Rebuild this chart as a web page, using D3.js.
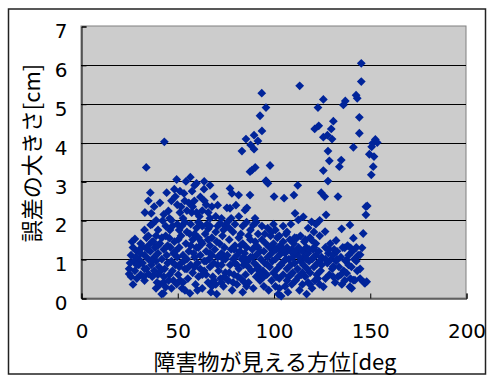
<!DOCTYPE html>
<html>
<head>
<meta charset="utf-8">
<script src="https://cdn.jsdelivr.net/npm/d3@7"></script>
<style>
  html, body { margin: 0; padding: 0; background: #fff; }
  svg { display: block; }
</style>
</head>
<body>
<svg id="chart" width="489" height="377"></svg>
<script>
// ---- Data (angle in deg, error in cm) ----
const xTicks = [0, 50, 100, 150, 200];
const yTicks = [0, 1, 2, 3, 4, 5, 6, 7];
const xTitle = "障害物が見える方位[deg";
const yTitle = "誤差の大きさ[cm]";

const pointsA = [ // 24-48 deg
  [25,0.62],[25.5,0.9],[26,1.1],[25,0.75],[26,0.55],[27,1.3],[27.5,0.95],[28,1.52],[28,0.7],[29,1.2],
  [29,0.5],[30,1.0],[30,0.85],[31,1.4],[31,0.6],[32,1.32],[32,0.9],[33,1.1],[33,0.45],[33.2,2.2],
  [33.9,3.36],[34,0.75],[34,1.55],[35,2.5],[35,1.0],[35,0.62],[36,2.71],[36.2,1.88],[36,1.2],[36.5,0.85],
  [37,1.45],[37.6,1.45],[37,0.55],[38,1.05],[38,0.7],[38.5,1.3],[39,0.95],[39,1.6],[40,0.6],[40,1.15],
  [40.5,0.8],[41,1.4],[41,0.35],[41.9,0.1],[42,1.0],[42.4,1.99],[42.8,0.4],[42.8,0.12],[43,1.25],[43.3,4.02],
  [43.5,0.75],[44,0.28],[44,1.6],[44.5,2.71],[44.5,1.1],[45,0.9],[45.4,2.24],[45.9,1.54],[46,0.6],[46.2,1.75],
  [46.5,1.3],[47,0.95],[47,2.0],[47.5,0.7],[48,1.15],[48,0.45],[48.5,2.8],[48.5,1.45],
  [26.5,1.45],[28.5,1.05],[30.5,1.25],[32.5,0.55],[34.5,1.25],[36.5,2.18],[39.5,0.4],[41.5,0.7],[45.5,0.45],[47.5,1.85],
  [33,1.75],[35,1.6],[37,1.9],[39,2.0],[40,1.75],[42,1.55],[43,2.15],[44,1.85],[46,2.05],[38,2.35],[41,2.45],[47,2.5],
  [27,0.35],[29,0.85],[31,1.15],[33,0.75],[35,1.35],[37,0.95],[39,0.25],[40,1.35],[43,0.55],[45,1.35],[47,0.25]
];
const pointsB = [ // 48-76 deg
  [49,2.61],[49,0.85],[49.7,3.05],[49.7,0.36],[50,1.05],[50,2.4],[50.5,0.6],[51,1.3],[51.4,2.75],[51.4,2.2],
  [52,0.9],[52,1.6],[52.5,1.86],[52.5,0.25],[53,1.1],[53,2.05],[53.5,2.69],[53.9,2.5],[54,0.2],[54,0.75],
  [54.5,1.4],[55,1.0],[55,1.7],[55.5,0.5],[56,1.2],[56.6,0.12],[56.8,3.11],[57,0.85],[57.5,2.2],[57.7,2.75],
  [58,1.5],[58,0.65],[58.9,2.5],[59,1.05],[59.5,0.35],[60,1.3],[60,1.8],[60.5,0.9],[61,0.55],[61,1.55],
  [61.5,2.1],[62,1.1],[62,0.75],[63,1.4],[63,0.25],[63.9,2.8],[64.1,2.5],[64,0.95],[64.5,1.65],[65,0.6],
  [65,1.2],[65.5,1.9],[66.1,2.2],[66.1,1.78],[66,0.4],[66.5,1.0],[67,1.35],[67,0.8],[67.5,0.15],[68,1.1],
  [68,1.55],[68.5,0.55],[69.1,2.61],[69,0.9],[69.5,1.25],[70,1.7],[70,0.35],[70.5,0.1],[71,2.39],[71,1.05],
  [71.5,0.7],[72.2,1.92],[72,1.4],[72.5,0.5],[73,1.15],[73,0.85],[73.5,1.6],[74,0.3],[74,1.0],[74.5,1.3],
  [75,0.65],[75,1.85],[75.8,2.32],
  [50.5,1.5],[51.5,0.45],[53.5,0.95],[56.5,1.65],[58.5,1.15],[60.5,0.2],[62.5,1.45],[64,0.7],[66,1.5],[68,0.3],
  [70.5,1.45],[72.5,1.1],[74.5,0.55],[56,2.45],[62,2.6],[59,2.9],[54.5,3.0],
  [50,1.9],[51,1.75],[52,2.35],[54,1.95],[55,2.25],[57,1.9],[58,2.35],[59,1.65],[60,2.2],[61,1.95],
  [63,1.85],[63,2.25],[65,2.4],[67,1.85],[67,2.05],[68,2.35],[70,2.1],[71,1.85],[73,2.05],[74,1.75],
  [64,3.0],[67,2.9],[60,2.95],
  [49,1.2],[51,0.8],[53,0.4],[55,0.75],[57,1.35],[59,0.8],[61,1.3],[63,0.6],[65,0.95],[67,1.15],
  [69,0.45],[71,0.85],[73,0.4],[75,1.0]
];
const pointsC = [ // 76-100 deg
  [76,1.1],[76.5,0.45],[77.4,2.82],[77.4,2.31],[77,1.5],[77.5,0.85],[78.4,2.69],[78,1.25],[78.5,0.2],[79,1.0],
  [79,1.7],[79.5,0.6],[80,1.35],[80.5,2.39],[80,0.9],[81,1.1],[81,0.35],[81.9,2.65],[82,1.55],[82,0.75],
  [82.5,1.2],[83,0.5],[83.6,3.78],[83.5,1.0],[84,1.4],[84,0.15],[84.5,0.85],[85,1.15],[85.2,2.26],[85.7,4.09],
  [85.5,0.6],[86,1.3],[86.2,2.32],[86.5,0.95],[87,1.6],[87,0.4],[87.8,3.25],[87.8,2.65],[88.1,3.94],[88,1.05],
  [88.5,0.7],[88.8,3.29],[89,1.25],[89.5,1.88],[89.9,4.19],[89.9,3.83],[89.5,0.25],[90,0.9],[90.4,2.05],[90.5,3.36],
  [90.5,1.45],[91,0.55],[91,1.1],[91.9,4.04],[92,0.8],[92,1.3],[93.0,4.69],[93,0.45],[93.5,1.0],[93.9,5.27],
  [94.0,4.30],[94,1.5],[94.5,0.7],[95,1.2],[95,0.3],[95.5,0.9],[96.1,4.90],[96.1,3.02],[96.4,2.99],[96,1.4],
  [96.5,0.6],[97.1,2.95],[97,1.05],[97.5,0.2],[98,1.3],[98.2,3.41],[98,0.8],[98.5,1.6],[99,0.45],[99,1.15],
  [99.5,0.95],[100,1.4],[100.3,2.61],[100,0.65],
  [77,1.8],[79.5,1.25],[81.5,0.55],[83,1.65],[84.5,1.05],[86,0.3],[88,1.5],[91.5,0.75],[93,1.2],[95.5,1.65],
  [76,1.95],[78,2.05],[80,1.9],[82,2.1],[84,1.85],[86,1.95],[88,1.75],[91,1.95],[92,1.65],[94,1.85],
  [97,1.8],[99,1.7],[100,1.9],
  [77,0.65],[79,0.4],[81,0.85],[83,1.35],[85,0.4],[87,0.8],[89,1.05],[91,1.35],[93,0.65],[95,0.55],
  [97,0.85],[99,1.3]
];
const pointsD = [ // 100-127 deg
  [101,1.0],[101,0.3],[101.5,1.25],[102,0.75],[102,1.55],[102.5,0.1],[103,1.1],[103,0.5],[103.5,1.35],[104,0.85],
  [104,0.05],[104.5,1.2],[105,0.6],[105.5,2.57],[105,1.45],[105.5,0.95],[106,0.3],[106,1.15],[106.5,1.65],[107,0.75],
  [107,1.3],[107.5,0.15],[108,1.0],[108,0.55],[108.5,1.5],[109,0.85],[109,1.2],[109.5,0.35],[110,1.05],[110,0.65],
  [110.6,2.65],[110.5,1.4],[111,0.9],[111.2,2.18],[111.5,0.45],[112,1.54],[112,1.15],[112.6,2.90],[112.9,2.01],[112.5,0.75],
  [113,1.3],[113.6,5.46],[113.5,0.2],[114,0.95],[114,1.6],[114.5,0.6],[115,1.2],[115.5,2.09],[115,0.35],[115.5,0.85],
  [116,1.45],[116,1.05],[116.5,0.55],[117,1.3],[117.2,0.1],[117.5,0.75],[118,1.15],[118,0.4],[118.5,0.95],[119,1.55],
  [119,0.65],[119.8,1.96],[119.8,1.49],[120,1.0],[120,0.25],[120.5,1.25],[121,0.8],[121.4,4.35],[121.5,0.45],[122,1.4],
  [122,1.1],[122.5,0.6],[123.1,4.90],[123.5,4.43],[123,0.9],[123.5,1.2],[124,0.35],[124,1.6],[124.8,2.71],[124.5,0.7],
  [125,1.05],[125.9,5.11],[125.9,4.14],[125.9,3.28],[125.9,0.29],[126.6,2.61],[126.8,1.71],
  [101.5,0.55],[103.5,0.85],[106.5,1.0],[109.5,1.25],[111,1.55],[113.5,1.05],[116.5,1.5],[118.5,1.25],[121,1.05],[124,0.95],
  [101,1.75],[103,1.6],[105,1.85],[107,1.7],[109,1.9],[118,1.8],[121,1.7],[122,1.9],[124,2.0],
  [101,1.25],[103,0.25],[105,1.25],[107,0.45],[109,0.6],[111,1.2],[113,0.55],[115,0.65],[117,1.0],[119,0.35],
  [121,1.3],[123,0.5],[125,0.85]
];
const pointsE = [ // 127-155 deg
  [127.3,2.14],[127,1.3],[127,0.5],[128,4.19],[128.3,3.78],[128.3,3.01],[128,0.9],[128.5,1.15],[129,3.53],[129,0.6],
  [129.5,1.4],[130,4.35],[130,1.0],[130.4,4.09],[130.5,0.75],[131.1,4.55],[131,1.11],[131,0.81],[131.5,1.25],[132,0.4],
  [132.5,1.48],[132.5,0.95],[133,1.2],[133.5,2.61],[133.5,0.55],[134,0.8],[134.2,3.38],[135,1.05],[135.2,3.55],[135.4,1.78],
  [135.5,0.35],[136,1.3],[136.3,4.97],[136.5,0.7],[137,1.29],[137.3,5.07],[137.5,0.95],[138,0.98],[138,0.64],[138.5,1.35],
  [139,1.1],[139.7,1.88],[139.7,0.29],[140,1.29],[140,0.5],[140.5,0.8],[141.5,3.88],[141.5,1.54],[141.5,0.46],[142,1.0],
  [142.9,5.22],[143,1.3],[143.5,5.14],[143.5,0.7],[144.6,4.65],[144.6,4.24],[144,1.1],[145,1.11],[145,0.5],[145.6,6.04],
  [145.6,5.57],[146,1.29],[146.6,1.66],[147,0.4],[147.5,0.38],[148,2.14],[148,2.35],[148.7,2.37],[148.4,0.42],[149.8,3.70],
  [150.8,3.17],[151,3.89],[151.5,3.98],[151.8,3.38],[152.2,3.64],[152.9,4.08],[153.9,4.00],[140.6,0.25],[142.3,0.46],
  [127,1.0],[129,1.25],[131,0.55],[133,1.0],[135,0.6],[137,0.45],[139,0.85],[141,1.2],[143,0.95],[145,0.75]
];
const points = [...pointsA, ...pointsB, ...pointsC, ...pointsD, ...pointsE];

// ---- Layout ----
const svg = d3.select("#chart");
const plot = { left: 81, top: 26, right: 466, bottom: 298 };

const x = d3.scaleLinear().domain([0, 200]).range([plot.left, plot.right]);
const y = d3.scaleLinear().domain([0, 7]).range([plot.bottom, plot.top]);

// outer frame
svg.append("rect")
  .attr("x", 8.5).attr("y", 9).attr("width", 477).attr("height", 365)
  .attr("fill", "#fff").attr("stroke", "#222").attr("stroke-width", 1.5);

// plot background
svg.append("rect")
  .attr("x", plot.left).attr("y", plot.top)
  .attr("width", plot.right - plot.left).attr("height", plot.bottom - plot.top)
  .attr("fill", "#cccccc").attr("stroke", "#808080").attr("stroke-width", 1);

// gridlines
svg.append("g").selectAll("line").data(yTicks.filter(d => d > 0 && d < 7)).join("line")
  .attr("x1", plot.left).attr("x2", plot.right)
  .attr("y1", d => Math.round(y(d)) + 0.5).attr("y2", d => Math.round(y(d)) + 0.5)
  .attr("stroke", "#000").attr("stroke-width", 1);

// y axis
const yAxis = d3.axisLeft(y).tickValues(yTicks).tickSize(-5).tickPadding(14).tickFormat(d3.format("d"));
const gy = svg.append("g").attr("transform", `translate(${plot.left + 0.5},0.5)`).call(yAxis);
gy.select(".domain").attr("stroke", "#000");
gy.selectAll(".tick line").attr("stroke", "#000");
gy.selectAll(".tick text")
  .attr("font-family", "'DejaVu Sans', sans-serif").attr("font-size", 20).attr("fill", "#000")
  .attr("dy", "0.56em");

// x axis
const xAxis = d3.axisBottom(x).tickValues(xTicks).tickSize(-5).tickPadding(25).tickFormat(d3.format("d"));
const gx = svg.append("g").attr("transform", `translate(0.5,${plot.bottom + 0.5})`).call(xAxis);
gx.select(".domain").attr("stroke", "#000");
gx.selectAll(".tick line").attr("stroke", "#000");
gx.selectAll(".tick text")
  .attr("font-family", "'DejaVu Sans', sans-serif").attr("font-size", 20).attr("fill", "#000");

// points
const diamond = "M0,-4.4L4.4,0L0,4.4L-4.4,0Z";
svg.append("g").selectAll("path").data(points).join("path")
  .attr("d", diamond)
  .attr("transform", d => `translate(${x(d[0])},${y(d[1])})`)
  .attr("fill", "#00249a");

// titles
svg.append("text")
  .attr("x", 275).attr("y", 370)
  .attr("text-anchor", "middle")
  .attr("font-family", "'Noto Sans CJK JP', sans-serif").attr("font-size", 22).attr("fill", "#000")
  .text(xTitle);

svg.append("text")
  .attr("transform", "translate(40,153) rotate(-90)")
  .attr("text-anchor", "middle")
  .attr("font-family", "'Noto Sans CJK JP', sans-serif").attr("font-size", 22).attr("fill", "#000")
  .text(yTitle);
</script>
</body>
</html>
